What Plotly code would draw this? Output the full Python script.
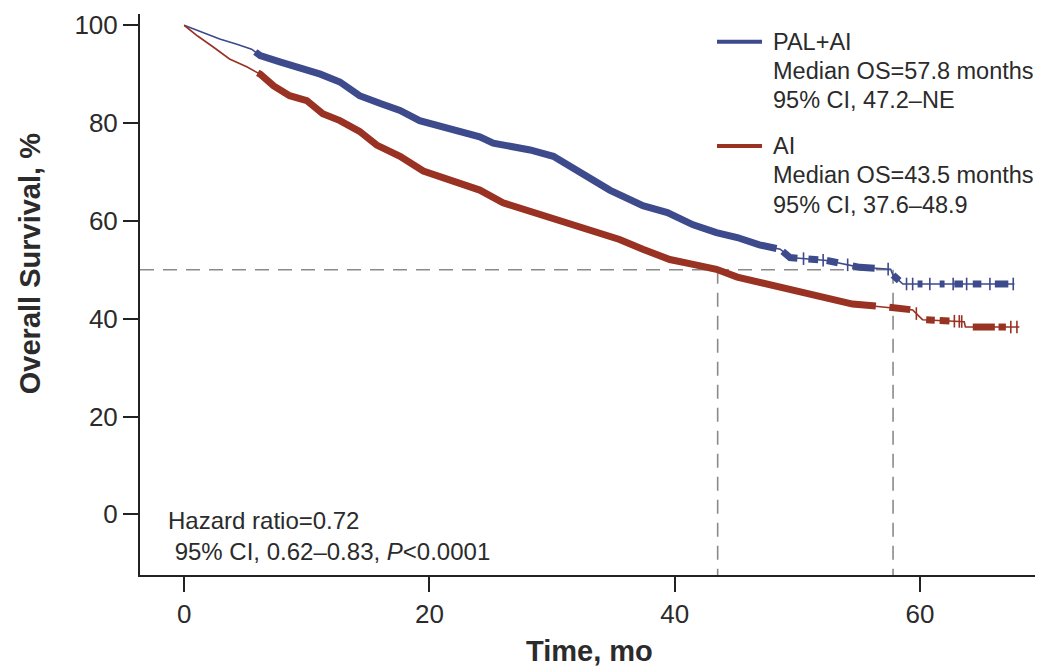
import numpy as np
import plotly.graph_objects as go

# ---------------- data ----------------
PAL_T = [0, 1.3, 2.9, 4.3, 5.5, 6.2, 7.8, 9.2, 11.1, 12.7, 14.3, 16.0, 17.6, 19.2, 21.4,
         24.1, 25.2, 28.2, 30.1, 32.3, 34.7, 37.4, 39.4, 41.5, 43.4, 45.1, 46.9, 48.6,
         49.4, 52.4, 55.1, 57.6, 57.8, 58.6, 67.7]
PAL_S = [100, 98.8, 97.2, 96.1, 95.1, 93.8, 92.5, 91.5, 90.0, 88.4, 85.6, 84.0, 82.6, 80.5, 78.9,
         77.2, 75.9, 74.5, 73.2, 69.8, 66.3, 63.1, 61.7, 59.2, 57.6, 56.6, 55.1, 54.2,
         52.5, 51.9, 50.5, 50.1, 48.9, 47.1, 47.1]

AI_T = [0, 0.2, 1.1, 2.4, 3.7, 5.1, 6.2, 7.3, 8.6, 10.0, 11.3, 12.7, 14.3, 15.7, 17.6, 19.5,
        21.9, 24.1, 26.0, 28.2, 30.5, 33.3, 35.5, 37.4, 39.6, 41.5, 43.4, 45.1, 46.9, 49.6,
        52.4, 54.5, 57.3, 59.4, 60.2, 63.6, 63.7, 68.1]
AI_S = [100, 99.6, 97.8, 95.5, 93.1, 91.5, 90.0, 87.6, 85.6, 84.6, 81.9, 80.5, 78.3, 75.5, 73.2, 70.2,
        68.2, 66.3, 63.7, 62.0, 60.0, 58.2, 56.2, 54.2, 52.1, 51.1, 50.1, 48.5, 47.5, 46.0,
        44.4, 43.0, 42.4, 41.8, 39.8, 39.4, 38.3, 38.3]

# intervals of dense censoring (drawn as solid blocks) and isolated censor marks
PAL_DENSE = [(5.8, 48.3), (48.8, 50.0), (50.9, 51.7), (52.4, 53.3), (54.5, 56.3), (57.8, 58.3),
             (59.8, 60.2), (61.6, 62.0), (62.8, 63.5), (64.3, 65.0), (66.1, 67.2)]
PAL_CENS = [50.5, 52.1, 54.1, 57.4, 58.9, 59.4, 60.8, 62.7, 63.8, 65.7, 67.6]

AI_DENSE = [(6.0, 56.4), (57.5, 59.2), (60.5, 61.2), (61.6, 62.4), (64.3, 66.1), (66.4, 67.0)]
AI_CENS = [59.7, 62.8, 63.2, 63.4, 67.4, 67.9]

MEDIANS = [43.5, 57.8]
MEDIAN_LEVEL = 50

LEGEND_PAL = ["PAL+AI", "Median OS=57.8 months", "95% CI, 47.2–NE"]
LEGEND_AI = ["AI", "Median OS=43.5 months", "95% CI, 37.6–48.9"]
HR_TEXT = "Hazard ratio=0.72<br>\u00a095% CI, 0.62–0.83, <i>P</i>&lt;0.0001"

X_TICKS = [0, 20, 40, 60]
Y_TICKS = [0, 20, 40, 60, 80, 100]

# ---------------- styling ----------------
BLUE = "#3d4a8c"
RED = "#993222"
TXT = "#2b2b2b"
FONT = "Liberation Sans, Arial, sans-serif"

# page body has an 8px margin; plot area spans screen x 140..1039, y 10..575
W, H = 1035, 662
PL, PR, PT, PB = 132, 4, 2, 95
PW = W - PL - PR
PH = H - PT - PB


def px(sx):
    return (sx - 8 - PL) / PW


def py(sy):
    return (H - PB - (sy - 8)) / PH


def band_xy(T, S, intervals):
    xs, ys = [], []
    for a, b in intervals:
        seg = [a] + [t for t in T if a < t < b] + [b]
        xs += seg + [None]
        ys += list(np.interp(seg, T, S)) + [None]
    return xs, ys


fig = go.Figure()

for T, S, dense, cens, col in [(PAL_T, PAL_S, PAL_DENSE, PAL_CENS, BLUE),
                               (AI_T, AI_S, AI_DENSE, AI_CENS, RED)]:
    fig.add_trace(go.Scatter(x=T, y=S, mode="lines", line=dict(color=col, width=1.6),
                             showlegend=False, hoverinfo="skip"))
    bx, by = band_xy(T, S, dense)
    fig.add_trace(go.Scatter(x=bx, y=by, mode="lines", line=dict(color=col, width=7),
                             showlegend=False, hoverinfo="skip"))
    fig.add_trace(go.Scatter(x=cens, y=list(np.interp(cens, T, S)), mode="markers",
                             marker=dict(symbol="line-ns", size=9, line=dict(color=col, width=1.6)),
                             showlegend=False, hoverinfo="skip"))

# median reference lines
dash = dict(color="#8a8a8a", width=1.6, dash="14px,9px")
fig.add_shape(type="line", xref="x", yref="y", x0=-3.6, x1=max(MEDIANS),
              y0=MEDIAN_LEVEL, y1=MEDIAN_LEVEL, line=dash, layer="below")
for m in MEDIANS:
    fig.add_shape(type="line", xref="x", yref="y", x0=m, x1=m, y0=MEDIAN_LEVEL, y1=-12.4,
                  line=dash, layer="below")

# legend drawn with shapes + text
for lines, col, sy in [(LEGEND_PAL, BLUE, 38), (LEGEND_AI, RED, 143)]:
    fig.add_shape(type="line", xref="paper", yref="paper", x0=px(717), x1=px(762),
                  y0=py(sy), y1=py(sy), line=dict(color=col, width=4))
    for i, s in enumerate(lines):
        fig.add_annotation(text=s, xref="paper", yref="paper", x=px(771), y=py(sy + 29.5 * i),
                           xanchor="left", yanchor="middle", showarrow=False,
                           font=dict(family=FONT, size=23.5, color=TXT))

fig.add_annotation(text=HR_TEXT, xref="paper", yref="paper", x=px(166), y=py(536),
                   xanchor="left", yanchor="middle", align="left", showarrow=False,
                   font=dict(family=FONT, size=24, color=TXT))
fig.add_annotation(text="<b>Overall Survival, %</b>", xref="paper", yref="paper",
                   x=px(30), y=py(262), xanchor="center", yanchor="middle", textangle=-90,
                   showarrow=False, font=dict(family=FONT, size=29, color=TXT))
fig.add_annotation(text="<b>Time, mo</b>", xref="paper", yref="paper",
                   x=px(589), y=py(652), xanchor="center", yanchor="middle",
                   showarrow=False, font=dict(family=FONT, size=29, color=TXT))

fig.update_layout(
    width=W, height=H,
    margin=dict(l=PL, r=PR, t=PT, b=PB),
    paper_bgcolor="white", plot_bgcolor="white",
    font=dict(family=FONT, color=TXT, size=24),
    showlegend=False,
    xaxis=dict(range=[-3.6, 69.7], tickvals=X_TICKS, showgrid=False, zeroline=False,
               showline=True, linecolor="#222", linewidth=2, ticks="outside", ticklen=15,
               tickwidth=2, tickcolor="#222", tickfont=dict(size=26, color=TXT)),
    yaxis=dict(range=[-12.4, 102.3], tickvals=Y_TICKS, showgrid=False, zeroline=False,
               showline=True, linecolor="#222", linewidth=2, ticks="outside", ticklen=15,
               tickwidth=2, tickcolor="#222", tickfont=dict(size=26, color=TXT),
               ticklabeloverflow="allow"),
)

fig.write_html("out.html")
